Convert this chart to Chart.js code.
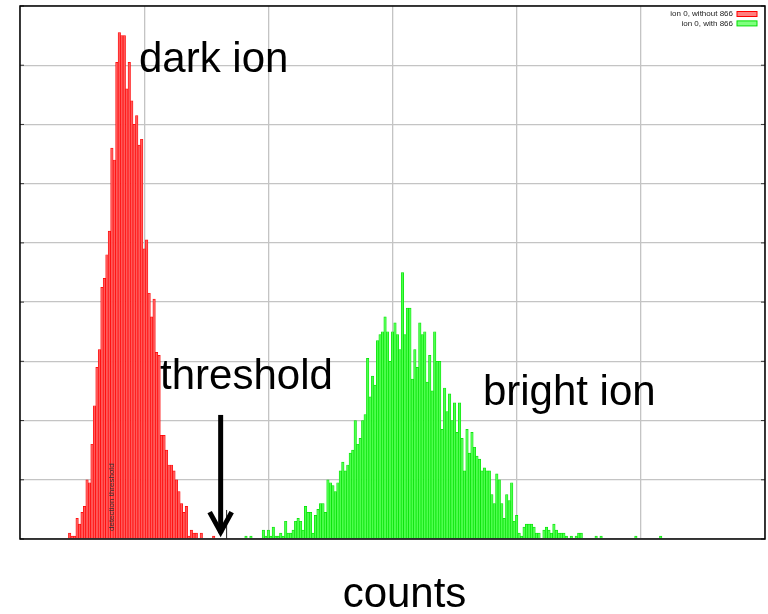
<!DOCTYPE html>
<html>
<head>
<meta charset="utf-8">
<script src="https://cdn.jsdelivr.net/npm/chart.js@4.4.1/dist/chart.umd.min.js"></script>
<style>
  html, body { margin: 0; padding: 0; background: #fff; }
  #histo { display: block; }
</style>
</head>
<body>
<canvas id="histo" width="768" height="614"></canvas>
<script>
// histogram counts, one value per bin (bin = first bin + index)
const darkFirstBin = 20;
const darkCounts = [
  2, 1, 1, 7, 5, 9, 11, 20, 19, 32,
  45, 58, 64, 85, 88, 96, 104, 132, 128, 161,
  171, 170, 170, 152, 161, 148, 140, 143, 133, 135,
  98, 101, 83, 75, 81, 63, 62, 35, 35, 30,
  25, 25, 23, 20, 16, 12, 9, 11, 1, 3,
  2, 2, 0, 2, 0, 0, 0, 0, 1
];

const brightFirstBin = 91;
const brightCounts = [
  1, 0, 1, 0, 0, 0, 0, 3, 1, 3,
  1, 4, 1, 1, 2, 1, 6, 2, 2, 3,
  6, 7, 6, 3, 11, 9, 9, 2, 8, 10,
  12, 12, 9, 20, 19, 18, 16, 19, 23, 26,
  23, 25, 29, 30, 40, 32, 34, 40, 42, 61,
  48, 55, 52, 67, 69, 70, 75, 70, 60, 70,
  73, 69, 64, 90, 69, 78, 78, 54, 64, 58,
  73, 69, 70, 53, 62, 50, 70, 60, 60, 37,
  51, 43, 49, 40, 46, 36, 46, 34, 23, 37,
  29, 36, 31, 28, 27, 23, 24, 23, 23, 15,
  12, 22, 20, 12, 7, 15, 13, 19, 6, 8,
  2, 1, 4, 5, 5, 5, 4, 2, 2, 0,
  3, 4, 3, 2, 5, 3, 2, 2, 2, 1,
  0, 1, 0, 1, 2, 2, 0, 0, 0, 0,
  0, 1, 0, 1, 0, 0, 0, 0, 0, 0,
  0, 0, 0, 0, 0, 0, 0, 1, 0, 0,
  0, 0, 0, 0, 0, 0, 0, 1
];

const seriesLabels = ['ion 0, without 866', 'ion 0, with 866'];
const xTitle = 'counts';

// annotations in data units: [text, bin, count]
const notes = [
  ['dark ion', 47.9, 157.7],
  ['threshold', 56.4, 50.7],
  ['bright ion', 186.4, 45.3]
];
const thresholdArrow = { bin: 80.8, from: 41.9, to: 1.3 };
const detectionLine = { bin: 83.2, top: 9.8, text: 'detection threshold', textBin: 37.0, textCount: 2.7 };

function toPoints(first, counts) {
  return counts.map((c, i) => ({ x: first + i, y: c })).filter(p => p.y > 0);
}

const FONT = '"Liberation Sans", Arial, sans-serif';

const decor = {
  id: 'decor',
  afterDraw(chart) {
    const { ctx, chartArea: a, scales: { x, y } } = chart;
    ctx.save();

    // small inward ticks on left and right
    ctx.strokeStyle = '#333';
    ctx.lineWidth = 1;
    y.ticks.forEach(t => {
      const py = y.getPixelForValue(t.value);
      ctx.beginPath();
      ctx.moveTo(a.left, py); ctx.lineTo(a.left + 4, py);
      ctx.moveTo(a.right, py); ctx.lineTo(a.right - 4, py);
      ctx.stroke();
    });

    // frame
    ctx.strokeStyle = '#000';
    ctx.lineWidth = 1.5;
    ctx.strokeRect(a.left, a.top, a.right - a.left, a.bottom - a.top);

    // big labels
    ctx.fillStyle = '#000';
    ctx.font = '42px ' + FONT;
    ctx.textAlign = 'left';
    ctx.textBaseline = 'alphabetic';
    notes.forEach(n => ctx.fillText(n[0], x.getPixelForValue(n[1]), y.getPixelForValue(n[2])));

    // axis title, sits a little right of centre like the original
    ctx.textAlign = 'center';
    ctx.fillText(xTitle, (a.left + a.right) / 2 + 12, a.bottom + 68);

    // detection threshold mark
    const lx = x.getPixelForValue(detectionLine.bin);
    ctx.strokeStyle = '#222';
    ctx.lineWidth = 1;
    ctx.beginPath();
    ctx.moveTo(lx, y.getPixelForValue(0));
    ctx.lineTo(lx, y.getPixelForValue(detectionLine.top));
    ctx.stroke();

    ctx.save();
    ctx.translate(x.getPixelForValue(detectionLine.textBin), y.getPixelForValue(detectionLine.textCount));
    ctx.rotate(-Math.PI / 2);
    ctx.font = '8px ' + FONT;
    ctx.fillStyle = '#333';
    ctx.textAlign = 'left';
    ctx.textBaseline = 'middle';
    ctx.fillText(detectionLine.text, 0, 0);
    ctx.restore();

    // arrow
    const ax = x.getPixelForValue(thresholdArrow.bin);
    const y0 = y.getPixelForValue(thresholdArrow.from);
    const y1 = y.getPixelForValue(thresholdArrow.to);
    ctx.strokeStyle = '#000';
    ctx.lineWidth = 5;
    ctx.lineCap = 'butt';
    ctx.lineJoin = 'miter';
    ctx.beginPath();
    ctx.moveTo(ax, y0); ctx.lineTo(ax, y1 - 2);
    ctx.stroke();
    ctx.beginPath();
    ctx.moveTo(ax - 11, y1 - 23);
    ctx.lineTo(ax, y1 - 3);
    ctx.lineTo(ax + 11, y1 - 23);
    ctx.stroke();

    // legend, top right
    ctx.font = '8px ' + FONT;
    ctx.textAlign = 'right';
    ctx.textBaseline = 'middle';
    ctx.lineWidth = 1;
    chart.data.datasets.forEach((ds, i) => {
      const cy = a.top + 8 + i * 9.4;
      ctx.fillStyle = '#222';
      ctx.fillText(ds.label, a.right - 32, cy);
      ctx.fillStyle = ds.legendFill;
      ctx.fillRect(a.right - 28, cy - 2.5, 20, 5);
      ctx.strokeStyle = ds.borderColor;
      ctx.strokeRect(a.right - 28, cy - 2.5, 20, 5);
    });

    ctx.restore();
  }
};

const gridStyle = { color: '#c4c4c4', lineWidth: 1.3, drawTicks: false, offset: false };

new Chart(document.getElementById('histo'), {
  type: 'bar',
  data: {
    datasets: [
      {
        label: seriesLabels[0],
        data: toPoints(darkFirstBin, darkCounts),
        backgroundColor: '#ff5a5a',
        borderColor: '#ff0000',
        legendFill: '#ff8080',
        borderWidth: 0.7,
        grouped: false,
        barPercentage: 1,
        categoryPercentage: 1
      },
      {
        label: seriesLabels[1],
        data: toPoints(brightFirstBin, brightCounts),
        backgroundColor: '#4dff4d',
        borderColor: '#00e000',
        legendFill: '#80ff80',
        borderWidth: 0.7,
        grouped: false,
        barPercentage: 1,
        categoryPercentage: 1
      }
    ]
  },
  options: {
    responsive: false,
    animation: false,
    devicePixelRatio: 1,
    layout: { padding: { left: 20, top: 6, right: 3, bottom: 75 } },
    plugins: {
      legend: { display: false },
      tooltip: { enabled: false }
    },
    scales: {
      x: {
        type: 'linear',
        min: 0,
        max: 300,
        offset: false,
        ticks: { display: false, stepSize: 50 },
        grid: gridStyle,
        border: { display: false }
      },
      y: {
        min: 0,
        max: 180,
        ticks: { display: false, stepSize: 20 },
        grid: gridStyle,
        border: { display: false }
      }
    }
  },
  plugins: [decor]
});
</script>
</body>
</html>
